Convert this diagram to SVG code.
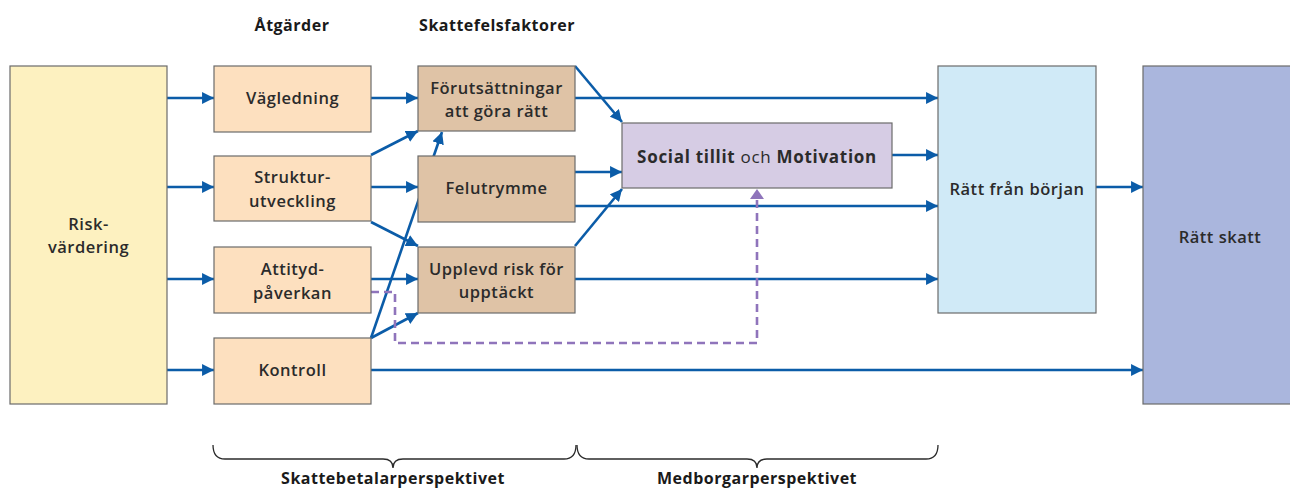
<svg xmlns="http://www.w3.org/2000/svg" width="1290" height="490" viewBox="0 0 1290 490">
<defs>
<marker id="ah" viewBox="0 0 10 10" refX="10" refY="5" markerWidth="4.6" markerHeight="4.6" orient="auto" markerUnits="strokeWidth"><path d="M0,0 L10,5 L0,10 z" fill="#0b5ca8"/></marker>
<style>
.box{stroke:#6b6b6b;stroke-width:1.2}
.t{font-family:"Open Sans","Liberation Sans",sans-serif;font-weight:600;font-size:16.5px;letter-spacing:0.5px;fill:#2b2b2b;text-anchor:middle}
.h{font-family:"Open Sans","Liberation Sans",sans-serif;font-weight:bold;font-size:16px;letter-spacing:0.5px;fill:#1a1a1a;text-anchor:middle}
.c{fill:none;stroke:#0b5ca8;stroke-width:2.6;marker-end:url(#ah)}
.d{fill:none;stroke:#8f74bb;stroke-width:2.6;stroke-dasharray:8,5}
.br{fill:none;stroke:#2b2b2b;stroke-width:1.3}
</style>
</defs>
<rect width="1290" height="490" fill="#ffffff"/>
<text class="h" x="292" y="31">Åtgärder</text>
<text class="h" x="497" y="31">Skattefelsfaktorer</text>

<g id="connectors">
<path class="c" d="M167,98 H214"/>
<path class="c" d="M167,187 H214"/>
<path class="c" d="M167,279 H214"/>
<path class="c" d="M167,370 H214"/>
<path class="c" d="M371,98 H418"/>
<path class="c" d="M371,155 L418,131"/>
<path class="c" d="M371,187 H418"/>
<path class="c" d="M371,222 L418,246"/>
<path class="c" d="M371,279 H418"/>
<path class="c" d="M371,338 L418,313"/>
<path class="c" d="M371,338 L442,132"/>
<path class="c" d="M575,66 L622,122"/>
<path class="c" d="M575,98 H938"/>
<path class="c" d="M575,172 H622"/>
<path class="c" d="M575,206 H938"/>
<path class="c" d="M575,246 L622,189"/>
<path class="c" d="M575,279 H938"/>
<path class="c" d="M892,155 H938"/>
<path class="c" d="M371,370 H1143"/>
<path class="c" d="M1096,187 H1143"/>
<path class="d" d="M371,292 H395 V343 H757 V196"/>
<path d="M750,199 L757,189 L764,199 z" fill="#8f74bb"/>
</g>

<g id="risk"><rect class="box" x="10" y="66" width="157" height="338" fill="#fdf1c0"/>
<text class="t" x="88.5" y="230">Risk-</text><text class="t" x="88.5" y="253">värdering</text></g>

<g id="vagledning"><rect class="box" x="214" y="66" width="157" height="66" fill="#fde0bf"/>
<text class="t" x="292.5" y="104">Vägledning</text></g>
<g id="struktur"><rect class="box" x="214" y="156" width="157" height="65" fill="#fde0bf"/>
<text class="t" x="292.5" y="183">Struktur-</text><text class="t" x="292.5" y="207">utveckling</text></g>
<g id="attityd"><rect class="box" x="214" y="247" width="157" height="66" fill="#fde0bf"/>
<text class="t" x="292.5" y="275">Attityd-</text><text class="t" x="292.5" y="299">påverkan</text></g>
<g id="kontroll"><rect class="box" x="214" y="338" width="157" height="66" fill="#fde0bf"/>
<text class="t" x="292.5" y="376">Kontroll</text></g>

<g id="forutsattningar"><rect class="box" x="418" y="66" width="157" height="65" fill="#dfc3a6"/>
<text class="t" x="496.5" y="94">Förutsättningar</text><text class="t" x="496.5" y="117">att göra rätt</text></g>
<g id="felutrymme"><rect class="box" x="418" y="156" width="157" height="66" fill="#dfc3a6"/>
<text class="t" x="496.5" y="194">Felutrymme</text></g>
<g id="upplevd"><rect class="box" x="418" y="247" width="157" height="66" fill="#dfc3a6"/>
<text class="t" x="496.5" y="275">Upplevd risk för</text><text class="t" x="496.5" y="298">upptäckt</text></g>

<g id="social"><rect class="box" x="622" y="123" width="270" height="65" fill="#d6cce4"/>
<text class="t" x="757" y="163" style="font-size:17px;letter-spacing:0.7px"><tspan font-weight="bold">Social tillit</tspan><tspan font-weight="normal"> och </tspan><tspan font-weight="bold">Motivation</tspan></text></g>

<g id="rattfranborjan"><rect class="box" x="938" y="66" width="158" height="247" fill="#d0eaf7"/>
<text class="t" x="1017" y="195">Rätt från början</text></g>
<g id="rattskatt"><rect class="box" x="1143" y="66" width="150" height="338" fill="#aab6dd"/>
<text class="t" x="1220" y="243">Rätt skatt</text></g>

<g id="braces">
<path class="br" d="M213,445 Q213,459 225,459 H383 Q393,459 393,468 Q393,459 403,459 H564 Q576,459 576,445"/>
<path class="br" d="M577,445 Q577,459 589,459 H747 Q757,459 757,468 Q757,459 767,459 H926 Q938,459 938,445"/>
<text class="h" x="393" y="484">Skattebetalarperspektivet</text>
<text class="h" x="757" y="484">Medborgarperspektivet</text>
</g>
</svg>
